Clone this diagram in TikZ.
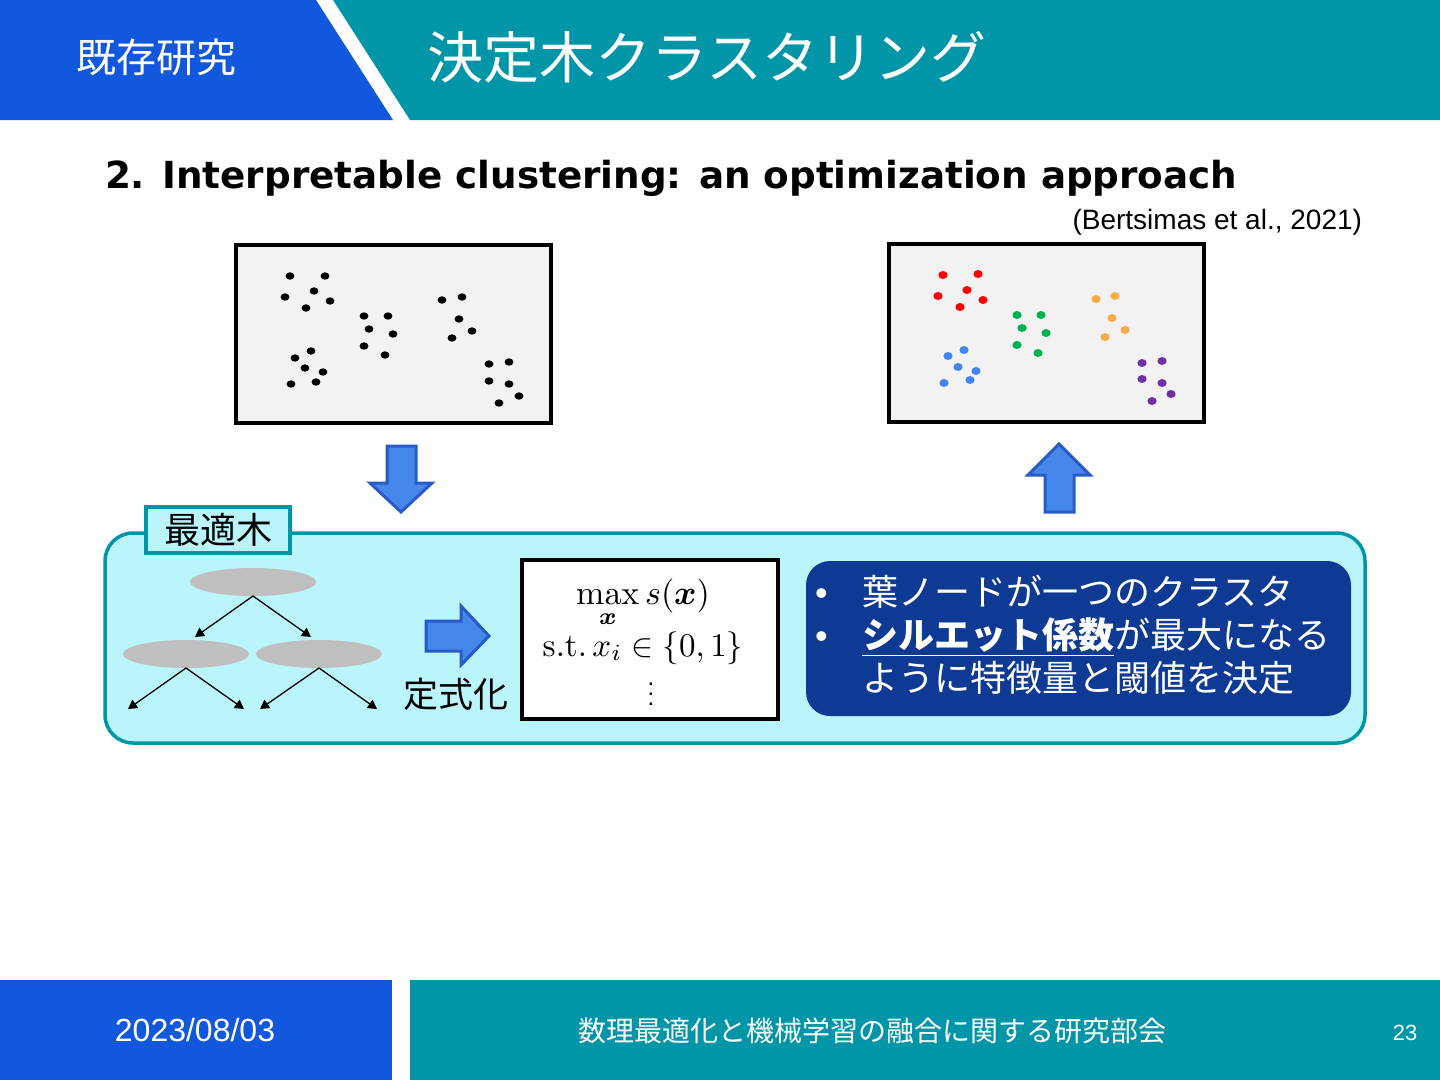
\documentclass[tikz,border=0pt]{standalone}
\usepackage[no-math]{fontspec}
\usepackage{amsmath}
\setmainfont{Liberation Sans}
\newfontfamily\jpfont{Noto Sans CJK JP}
\newfontfamily\ttlfont{DejaVu Sans}
\usetikzlibrary{positioning,arrows.meta,shapes.geometric}

\definecolor{hdrblue}{RGB}{17,88,220}
\definecolor{hdrteal}{RGB}{0,150,168}
\definecolor{panelcyan}{RGB}{186,245,252}
\definecolor{notenavy}{RGB}{14,58,148}
\definecolor{arrfill}{RGB}{70,135,235}
\definecolor{arrline}{RGB}{40,90,200}
\definecolor{boxgray}{RGB}{242,242,242}
\definecolor{dotred}{RGB}{255,0,0}
\definecolor{dotgreen}{RGB}{0,176,80}
\definecolor{dotorange}{RGB}{250,170,70}
\definecolor{dotblue}{RGB}{66,133,240}
\definecolor{dotpurple}{RGB}{112,48,160}

\begin{document}
\begin{tikzpicture}[x=1pt, y=-1pt,
    every node/.style={inner sep=0pt, outer sep=0pt},
    jp/.style={font={\jpfont\fontsize{#1}{#1}\selectfont}},
    plotbox/.style={draw, line width=3.5pt, fill=boxgray, minimum width=315pt, minimum height=178pt},
    blkarr/.style={fill=arrfill, draw=arrline, line width=3pt},
    tnode/.style={ellipse, fill=black!25, minimum width=126pt, minimum height=28pt},
    tarr/.style={-{Triangle[length=9pt,width=10pt]}, line width=1.3pt},
]
\useasboundingbox (0,0) rectangle (1440,1080);
\fill[white] (0,0) rectangle (1440,1080);

% header
\fill[hdrblue] (0,0) -- (316,0) -- (393,120) -- (0,120) -- cycle;
\fill[hdrteal] (333,0) -- (1440,0) -- (1440,120) -- (410,120) -- cycle;
\node[jp=40, text=white] (hdrL) at (156,57) {既存研究};
\node[jp=56, text=white] (hdrTitle) at (707,57) {決定木クラスタリング};

\node[font={\ttlfont\bfseries\fontsize{37.3}{37.3}\selectfont}, anchor=base west] (subttl) at (105,188)
    {2. Interpretable clustering: an optimization approach};
\node[font=\fontsize{28}{28}\selectfont, anchor=base east] (cite) at (1362,229) {(Bertsimas et al., 2021)};

% data before / after clustering
\node[plotbox] (rawBox) at (393.5,334) {};
\node[plotbox] (clusBox) at (1046.5,333) {};

\foreach \px/\py in {290/276,325/276,314/291,285/297,330/301,306/308,
    364/316,388/316,369/329,393/334,364/346,385/355,
    442/300,462/297,459/319,472/331,452/338,
    311/351,295/358,305/368,323/372,291/384,316/382,
    489/364,509/362,489/381,509/384,519/396,499/403}
  \fill (\px,\py) ellipse [x radius=4.4pt, y radius=3.7pt];

\foreach \px/\py in {943/275,978/274,967/290,938/296,983/300,960/307}
  \fill[dotred] (\px,\py) ellipse [x radius=4.6pt, y radius=4pt];
\foreach \px/\py in {1017/315,1041/315,1022/328,1046/333,1017/345,1038/353}
  \fill[dotgreen] (\px,\py) ellipse [x radius=4.6pt, y radius=4pt];
\foreach \px/\py in {1096/299,1115/296,1112/318,1125/330,1105/337}
  \fill[dotorange] (\px,\py) ellipse [x radius=4.6pt, y radius=4pt];
\foreach \px/\py in {964/350,948/356,958/367,976/371,944/383,970/380}
  \fill[dotblue] (\px,\py) ellipse [x radius=4.6pt, y radius=4pt];
\foreach \px/\py in {1142/363,1162/361,1142/379,1162/383,1171/394,1152/401}
  \fill[dotpurple] (\px,\py) ellipse [x radius=4.6pt, y radius=4pt];

% block arrows
\draw[blkarr] (387,446) -- (416,446) -- (416,483) -- (432,483) -- (401,512) -- (370,483) -- (387,483) -- cycle;
\draw[blkarr] (1059,444) -- (1090,475) -- (1074,475) -- (1074,512) -- (1045,512) -- (1045,475) -- (1028,475) -- cycle;

% optimal tree panel
\node[draw=hdrteal, line width=3.5pt, fill=panelcyan, rounded corners=28pt,
      minimum width=1260pt, minimum height=210pt] (panel) at (735,638) {};
\node[draw=hdrteal, line width=3.5pt, fill=panelcyan, jp=36,
      minimum width=144pt, minimum height=46pt] (panelTag) at (218,530) {最適木};

\node[tnode] (root) at (253,582) {};
\node[tnode] (leftN) at (186,654) {};
\node[tnode] (rightN) at (319,654) {};
\coordinate (m1) at (195,637);
\coordinate (m2) at (311,637);
\coordinate (f1) at (128,709);
\coordinate (f2) at (244,709);
\coordinate (f3) at (260,709);
\coordinate (f4) at (377,709);
\draw[tarr] (root.south) -- (m1);
\draw[tarr] (root.south) -- (m2);
\draw[tarr] (leftN.south) -- (f1);
\draw[tarr] (leftN.south) -- (f2);
\draw[tarr] (rightN.south) -- (f3);
\draw[tarr] (rightN.south) -- (f4);

\draw[blkarr] (426,621) -- (461,621) -- (461,606) -- (489,636) -- (461,665) -- (461,651) -- (426,651) -- cycle;
\node[jp=35] (fmlLbl) at (456,694) {定式化};

% formulation
\node[draw, line width=3.5pt, fill=white, minimum width=256pt, minimum height=159pt] (fml) at (650,639.5) {};
\node[anchor=base] (fmax) at (643,604)
    {\scalebox{3.4}{$\displaystyle\max_{\boldsymbol{x}} s(\boldsymbol{x})$}};
\node[anchor=base] (fst) at (643,656)
    {\scalebox{3.3}{$\mathrm{s.t.}\, x_i \in \{0,1\}$}};
\node (fdots) at (651,687) {\scalebox{2.4}{$\vdots$}};

% note
\node[fill=notenavy, rounded corners=24pt, minimum width=545pt, minimum height=155pt] (note) at (1078.5,638.5) {};
\node[text=white, align=left, anchor=west, font={\jpfont\fontsize{36}{43}\selectfont}] (noteTxt) at (815,635)
    {\makebox[47pt][l]{\rmfamily •}葉ノードが一つのクラスタ\\
     \makebox[47pt][l]{\rmfamily •}\underline{\textbf{シルエット係数}}が最大になる\\
     \hspace*{47pt}ように特徴量と閾値を決定};

% footer
\fill[hdrblue] (0,980) rectangle (392,1080);
\fill[hdrteal] (410,980) rectangle (1440,1080);
\node[font=\fontsize{32}{32}\selectfont, text=white] (footDate) at (195,1030) {2023/08/03};
\node[jp=28, text=white] (footOrg) at (872,1031) {数理最適化と機械学習の融合に関する研究部会};
\node[font=\fontsize{22}{22}\selectfont, text=white] (pageNo) at (1405,1033) {23};
\end{tikzpicture}
\end{document}
